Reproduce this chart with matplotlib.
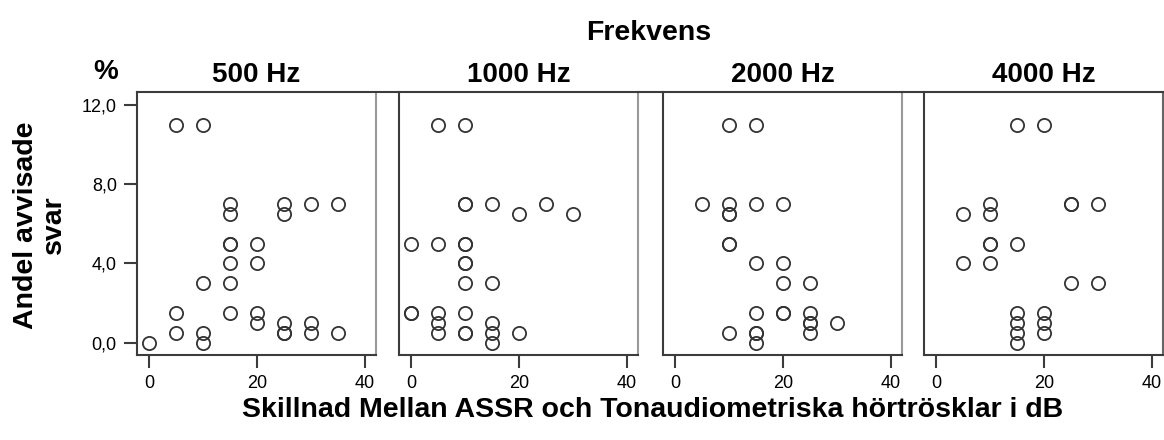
import matplotlib
matplotlib.use("Agg")
from matplotlib import pyplot as plt
from matplotlib.lines import Line2D
from matplotlib.ticker import FuncFormatter

plt.rcParams['font.family'] = ['Liberation Sans', 'DejaVu Sans']

frequencies = ["500 Hz", "1000 Hz", "2000 Hz", "4000 Hz"]

# skillnad i dB (x) och andel avvisade svar i % (y), en lista per frekvens
diff_500 = [5, 10, 15, 15, 25, 25, 30, 35, 15, 15, 20, 15, 20, 10, 15,
            5, 15, 20, 20, 25, 30, 5, 10, 25, 25, 30, 35, 0, 10]
rej_500 = [11, 11, 7, 6.5, 7, 6.5, 7, 7, 5, 5, 5, 4, 4, 3, 3,
           1.5, 1.5, 1.5, 1.0, 1.0, 1.0, 0.5, 0.5, 0.5, 0.5, 0.5, 0.5, 0, 0]

diff_1000 = [5, 10, 10, 10, 15, 25, 20, 30, 0, 5, 10, 10, 10, 10, 10, 15,
             0, 0, 5, 10, 5, 5, 10, 10, 20, 15, 15, 15]
rej_1000 = [11, 11, 7, 7, 7, 7, 6.5, 6.5, 5, 5, 5, 5, 4, 4, 3, 3,
            1.5, 1.5, 1.5, 1.5, 1.0, 0.5, 0.5, 0.5, 0.5, 1.0, 0.5, 0]

diff_2000 = [10, 15, 5, 10, 15, 20, 10, 10, 10, 10, 15, 20, 20, 25,
             15, 20, 20, 25, 25, 25, 30, 10, 15, 15, 25, 15]
rej_2000 = [11, 11, 7, 7, 7, 7, 6.5, 6.5, 5, 5, 4, 4, 3, 3,
            1.5, 1.5, 1.5, 1.5, 1.0, 1.0, 1.0, 0.5, 0.5, 0.5, 0.5, 0]

diff_4000 = [15, 20, 10, 25, 25, 30, 5, 10, 10, 10, 15, 5, 10, 25, 30,
             15, 20, 15, 20, 15, 20, 15]
rej_4000 = [11, 11, 7, 7, 7, 7, 6.5, 6.5, 5, 5, 5, 4, 4, 3, 3,
            1.5, 1.5, 1.0, 1.0, 0.5, 0.5, 0]

panels = [(diff_500, rej_500), (diff_1000, rej_1000),
          (diff_2000, rej_2000), (diff_4000, rej_4000)]

W, H = 1164, 440
fig = plt.figure(figsize=(W / 100, H / 100), dpi=100)

lefts = [137, 399, 663, 924]
pw, ptop, pbot = 239, 92, 355

dark = '#3c3c3c'
comma = FuncFormatter(lambda v, p: ("%.1f" % v).replace('.', ','))

for i, (xs, ys) in enumerate(panels):
    ax = fig.add_axes([lefts[i] / W, 1 - pbot / H, pw / W, (pbot - ptop) / H])
    ax.plot(xs, ys, 'o', ms=9.5, mfc='none', mec='#333333', mew=1.3)
    ax.set_xlim(-2.3, 42.1)
    ax.set_ylim(-0.62, 12.65)
    ax.set_xticks([0, 20, 40])
    ax.set_yticks([0, 4, 8, 12])
    ax.yaxis.set_major_formatter(comma)
    ax.tick_params(direction='out', length=9.5, width=1.5, color=dark,
                   labelsize=13, pad=5)
    if i > 0:
        ax.tick_params(axis='y', left=False, labelleft=False)
    ax.spines['top'].set_visible(False)
    for s in ['left', 'bottom']:
        ax.spines[s].set_linewidth(1.5)
        ax.spines[s].set_color(dark)
    ax.spines['right'].set_linewidth(1.5)
    ax.spines['right'].set_color('#999999' if i < 3 else '#666666')
    ax.set_title(frequencies[i], fontsize=20, fontweight='bold', pad=7)

# gemensam överkant
fig.add_artist(Line2D([lefts[0] / W, (lefts[3] + pw) / W],
                      [1 - ptop / H, 1 - ptop / H],
                      color=dark, lw=1.5))

fig.text(649 / W, 1 - 33 / H, "Frekvens", ha='center', va='center',
         fontsize=20.5, fontweight='bold')
fig.text(106 / W, 1 - 72 / H, "%", ha='center', va='center',
         fontsize=20, fontweight='bold')
fig.text(40 / W, 1 - 225 / H, "Andel avvisade\nsvar", ha='center',
         va='center', rotation=90, fontsize=20.5, fontweight='bold',
         multialignment='center', linespacing=1.05)
fig.text(653 / W, 1 - 410 / H,
         "Skillnad Mellan ASSR och Tonaudiometriska hörtrösklar i dB",
         ha='center', va='center', fontsize=20.5, fontweight='bold')

fig.savefig("out.png", dpi=100)
